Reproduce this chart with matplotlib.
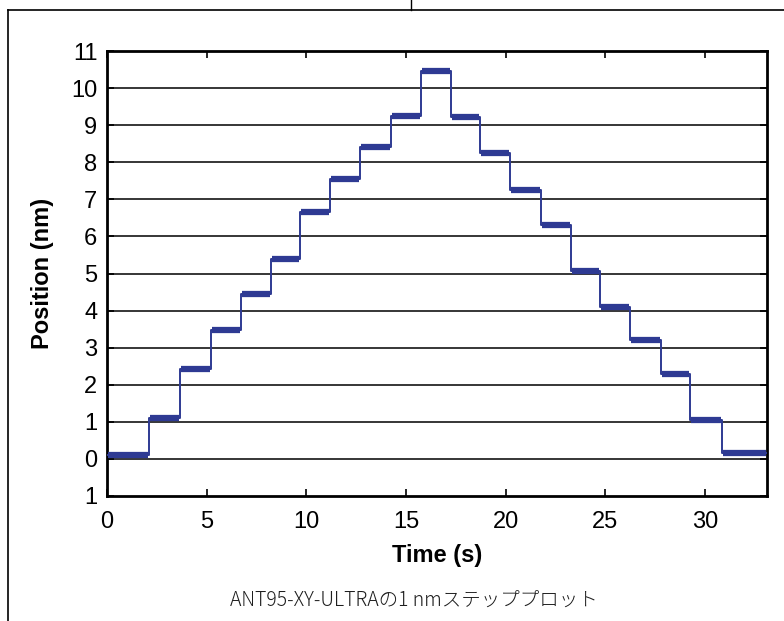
import matplotlib
matplotlib.use("Agg")
import matplotlib.pyplot as plt
from matplotlib.lines import Line2D
import numpy as np

# step levels (nm) and the times (s) where each plateau starts
t_start = [0.0, 2.1, 3.66, 5.2, 6.7, 8.2, 9.7, 11.2, 12.7, 14.25, 15.76,
           17.23, 18.73, 20.22, 21.78, 23.27, 24.74, 26.24, 27.8, 29.25, 30.82]
levels = [0.1, 1.1, 2.42, 3.47, 4.46, 5.4, 6.67, 7.55, 8.41, 9.26, 10.47,
          9.21, 8.24, 7.24, 6.32, 5.07, 4.11, 3.2, 2.3, 1.05, 0.17]
t_end = 33.1

yticks = list(range(-1, 12))
ytick_labels = [str(abs(v)) for v in yticks]
xticks = [0, 5, 10, 15, 20, 25, 30]

caption = "ANT95-XY-ULTRAの1 nmステッププロット"

plt.rcParams['font.family'] = ['Liberation Sans', 'DejaVu Sans']

fig = plt.figure(figsize=(7.84, 6.21), dpi=100)
W, H = 784, 621
ax = fig.add_axes([107 / W, 1 - 496 / H, (767 - 107) / W, (496 - 51) / H])

line_col = '#2e3a93'
x_edges = np.array(t_start + [t_end])
y_vals = np.array(levels + [levels[-1]])
ax.step(x_edges, y_vals, where='post', color=line_col, lw=1.4, zorder=3)
# plateaus drawn thicker (the measured signal is a noisy band)
ax.hlines(levels, x_edges[:-1] + 0.05, x_edges[1:] - 0.05, color=line_col,
          lw=4.5, zorder=3)

for v in range(0, 11):
    ax.axhline(v, color='black', lw=1.1, zorder=1)

ax.set_xlim(0, t_end)
ax.set_ylim(-1, 11)
ax.set_xticks(xticks)
ax.set_yticks(yticks)
ax.set_yticklabels(ytick_labels)
ax.tick_params(direction='in', length=5, width=1.2, labelsize=17,
               top=True, right=True)
ax.tick_params(axis='x', pad=11)
ax.tick_params(axis='y', pad=7)
for s in ax.spines.values():
    s.set_linewidth(2)

ax.set_xlabel('Time (s)', fontsize=17, fontweight='bold', labelpad=8)
ax.set_ylabel('Position (nm)', fontsize=17, fontweight='bold', labelpad=12)

fig.text(414 / W, 1 - 601 / H, caption, ha='center', va='center',
         fontsize=14, color='#1e1e1e', fontweight='light',
         family=['Noto Sans CJK JP', 'DejaVu Sans'])

# page frame around the figure
fig.add_artist(Line2D([8 / W, 8 / W], [0, 1 - 10 / H], color='black', lw=1.2,
                      transform=fig.transFigure))
fig.add_artist(Line2D([8 / W, 1], [1 - 10 / H, 1 - 10 / H], color='black',
                      lw=1.2, transform=fig.transFigure))
fig.add_artist(Line2D([411 / W, 411 / W], [1 - 10 / H, 1], color='black',
                      lw=1.0, transform=fig.transFigure))

fig.savefig('out.png', dpi=100)
